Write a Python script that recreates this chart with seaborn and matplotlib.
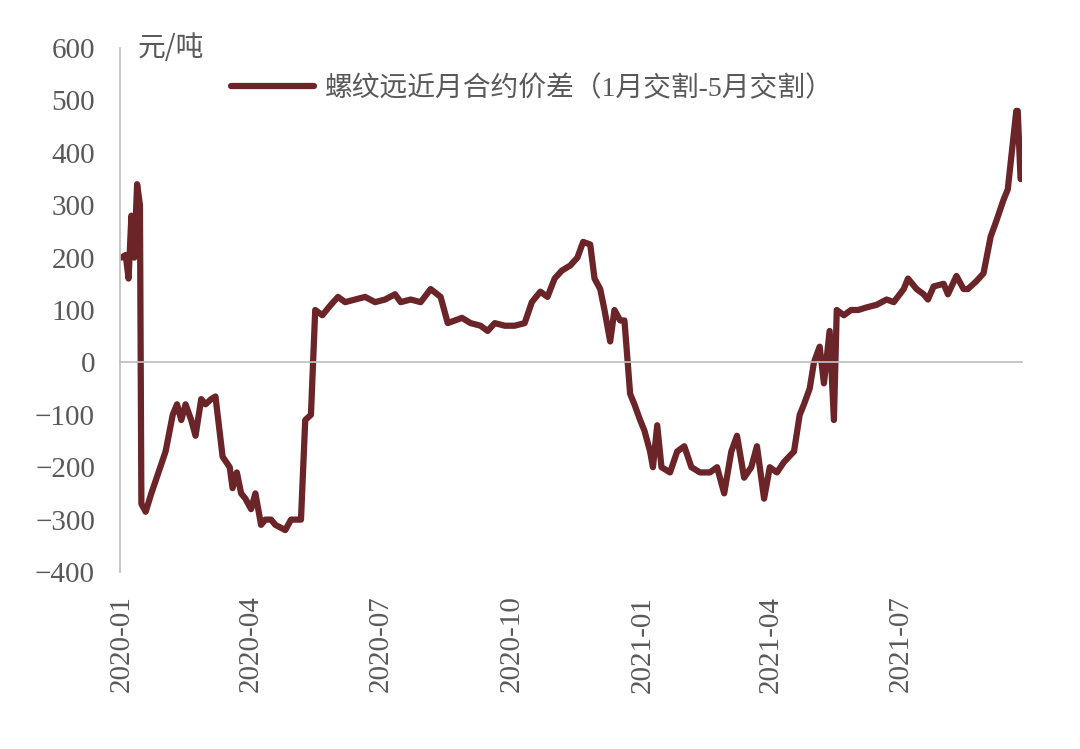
import matplotlib
matplotlib.use("Agg")
import matplotlib.pyplot as plt
import matplotlib.transforms as mtrans
import seaborn as sns
import pandas as pd
import numpy as np

sns.set_theme(style="white")
plt.rcParams['font.family'] = ['Liberation Serif', 'Noto Sans CJK SC']

start = "2020-01-01"
day_offsets = [0,3,5,7,9,11,13,14,17,21,31,36,39,42,45,49,52,56,59,63,66,71,76,78,81,84,87,91,94,98,101,105,108,115,119,126,129,133,136,141,147,152,157,164,171,178,185,192,196,203,210,217,224,229,234,239,245,252,257,262,269,276,283,288,294,299,304,309,315,320,324,329,332,336,339,343,346,350,353,357,360,364,367,371,373,376,379,385,390,395,400,406,413,418,423,428,432,437,442,446,451,455,460,465,472,476,479,483,486,490,493,497,500,502,507,512,517,523,530,537,542,549,552,558,563,566,570,577,580,586,591,594,600,605,610,614,619,622,626,628,629,631]
spread = [200,205,160,280,200,340,300,-270,-285,-250,-170,-100,-80,-110,-80,-110,-140,-70,-80,-70,-65,-180,-200,-240,-210,-250,-260,-280,-250,-310,-300,-300,-310,-320,-300,-300,-110,-100,100,90,110,125,115,120,125,115,120,130,115,120,115,140,125,75,80,85,75,70,60,75,70,70,75,115,135,125,160,175,185,200,230,225,160,140,100,40,100,80,80,-60,-80,-110,-130,-170,-200,-120,-200,-210,-170,-160,-200,-210,-210,-200,-250,-170,-140,-220,-200,-160,-260,-200,-210,-190,-170,-100,-80,-50,0,30,-40,60,-110,100,90,100,100,105,110,120,115,140,160,140,130,120,145,150,130,165,140,140,155,170,240,270,310,330,430,480,480,350]
tick_labels = ["2020-01","2020-04","2020-07","2020-10","2021-01","2021-04","2021-07"]
series_name = "螺纹远近月合约价差（1月交割-5月交割）"

t0 = pd.Timestamp(start)
df = pd.DataFrame({"date": t0 + pd.to_timedelta(day_offsets, unit="D"), "v": spread})
df["x"] = (df["date"] - t0).dt.days

fig = plt.figure(figsize=(10.8, 7.49), dpi=100)
ax = fig.add_axes([120/1080, 1-572/749, (1022-120)/1080, (572-48)/749])
sns.lineplot(data=df, x="x", y="v", ax=ax, color="#6B2428", linewidth=4.5, label=series_name)

ax.set_xlim(-1, 632)
ax.set_ylim(-400, 600)
ax.set_yticks(range(-400, 601, 100))
ax.tick_params(axis='y', direction='out', length=6, color="#bfbfbf", labelsize=21, labelcolor="#595959", pad=12)
ticks_x = [(pd.Timestamp(l + "-01") - t0).days for l in tick_labels]
ax.set_xticks(ticks_x)
ax.set_xticklabels([])
ax.tick_params(axis='x', direction='in', length=12, color="#bfbfbf")
for s in ["top", "right"]:
    ax.spines[s].set_visible(False)
ax.spines["left"].set_color("#bfbfbf")
ax.spines["bottom"].set_color("#bfbfbf")
ax.spines["bottom"].set_position(("data", 0))
ax.set_xlabel(""); ax.set_ylabel("")
trans = mtrans.blended_transform_factory(ax.transData, ax.transAxes)
for tx, lab in zip(ticks_x, tick_labels):
    ax.text(tx, -0.045, lab, transform=trans, rotation=90, ha="center", va="top",
            fontsize=21, color="#595959")
ax.text(0.02, 1.0, "元/吨", transform=ax.transAxes, ha="left", va="center",
        fontsize=20, color="#595959", family=['Noto Sans CJK SC'])
leg = ax.legend(loc="upper left", bbox_to_anchor=(0.095, 0.995), frameon=False,
                handlelength=3.0, handletextpad=0.4,
                prop={'family': ['Liberation Serif', 'Noto Sans CJK SC'], 'size': 20})
for t in leg.get_texts():
    t.set_color("#595959")
fig.savefig("out.png", dpi=100)
